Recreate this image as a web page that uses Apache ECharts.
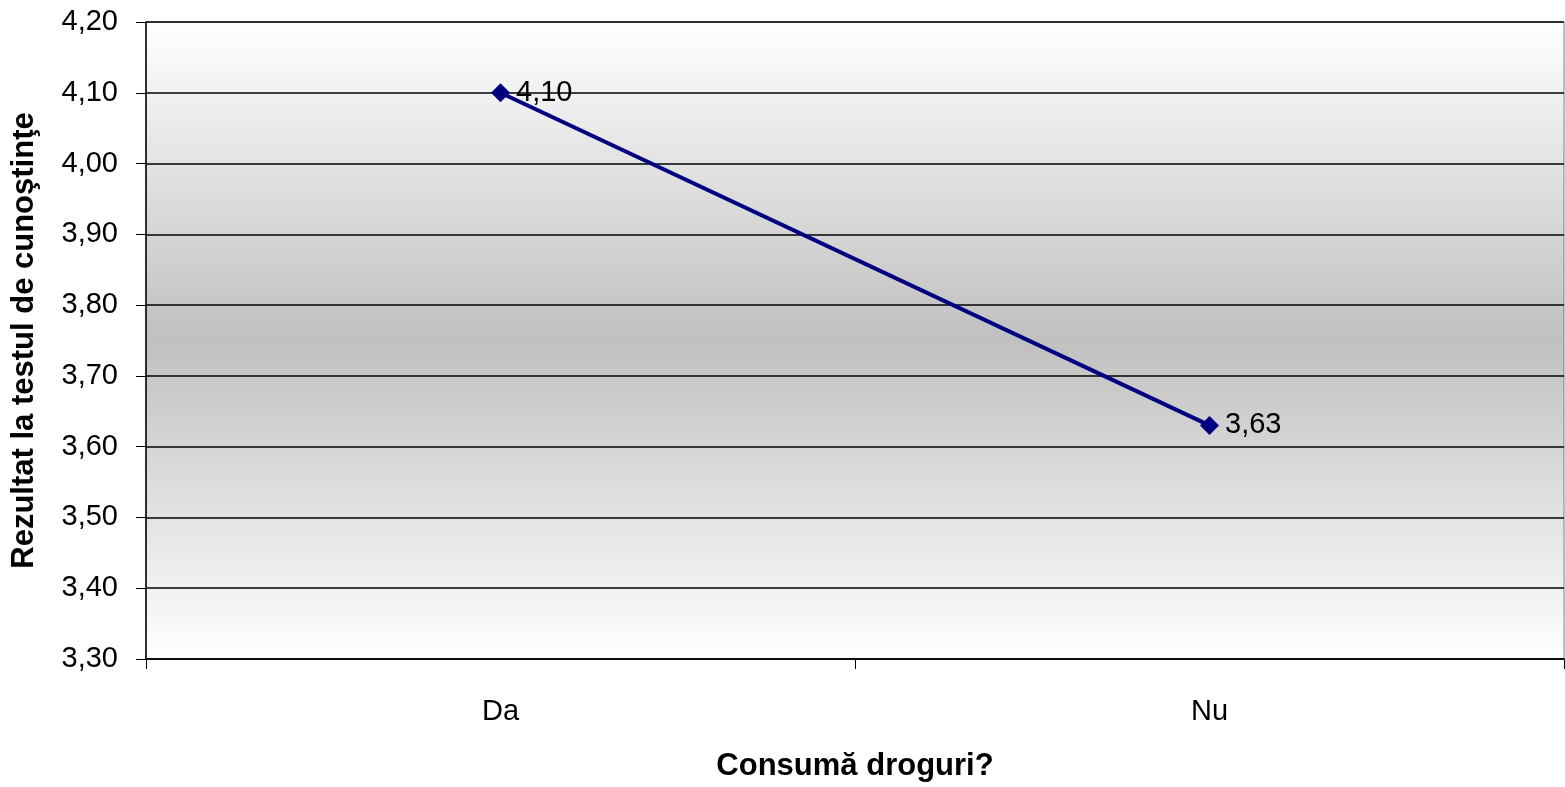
<!DOCTYPE html>
<html><head><meta charset="utf-8">
<script src="https://cdn.jsdelivr.net/npm/echarts@6/dist/echarts.min.js"></script>
<style>html,body{margin:0;padding:0;background:#fff}#c{width:1565px;height:787px}</style>
</head><body><div id="c"></div>
<script>
const categories = ['Da', 'Nu'];
const values = [4.10, 3.63];
const yTicks = [3.30, 3.40, 3.50, 3.60, 3.70, 3.80, 3.90, 4.00, 4.10, 4.20];
const xTitle = 'Consumă droguri?';
const yTitle = 'Rezultat la testul de cunoştinţe';

const fmt = v => Number(v).toFixed(2).replace('.', ',');
const chart = echarts.init(document.getElementById('c'));
chart.setOption({
  animation: false,
  textStyle: { fontFamily: 'Liberation Sans, Arial, sans-serif' },
  grid: {
    left: 146, right: 1, top: 22, bottom: 127,
    show: true,
    borderColor: '#808080', borderWidth: 1,
    backgroundColor: new echarts.graphic.LinearGradient(0, 0, 0, 1, [
      { offset: 0, color: '#ffffff' },
      { offset: 0.5, color: '#c0c0c0' },
      { offset: 1, color: '#ffffff' }
    ])
  },
  xAxis: {
    type: 'category', data: categories, boundaryGap: true,
    name: xTitle, nameLocation: 'middle', nameGap: 92,
    nameTextStyle: { fontSize: 31, fontWeight: 'bold', color: '#000' },
    axisLine: { lineStyle: { color: '#000', width: 1.5 } },
    axisTick: { show: true, length: 10, lineStyle: { color: '#000' } },
    axisLabel: { fontSize: 29, color: '#000', margin: 38 }
  },
  yAxis: {
    type: 'value', min: yTicks[0], max: yTicks[yTicks.length - 1], interval: 0.1,
    name: yTitle, nameLocation: 'middle', nameGap: 106, nameRotate: 90,
    nameTextStyle: { fontSize: 31, fontWeight: 'bold', color: '#000' },
    axisLine: { show: true, lineStyle: { color: '#000', width: 1.5 } },
    axisTick: { show: true, length: 10, lineStyle: { color: '#000' } },
    axisLabel: { fontSize: 29, color: '#000', margin: 28, formatter: v => fmt(v) },
    splitLine: { show: true, lineStyle: { color: '#000', width: 1.5 } }
  },
  series: [{
    type: 'line', data: values,
    symbol: 'diamond', symbolSize: 19,
    lineStyle: { color: '#000080', width: 4 },
    itemStyle: { color: '#000080' },
    label: { show: true, position: 'right', distance: 6, fontSize: 29, color: '#000', formatter: p => fmt(p.value) }
  }]
});
</script></body></html>
